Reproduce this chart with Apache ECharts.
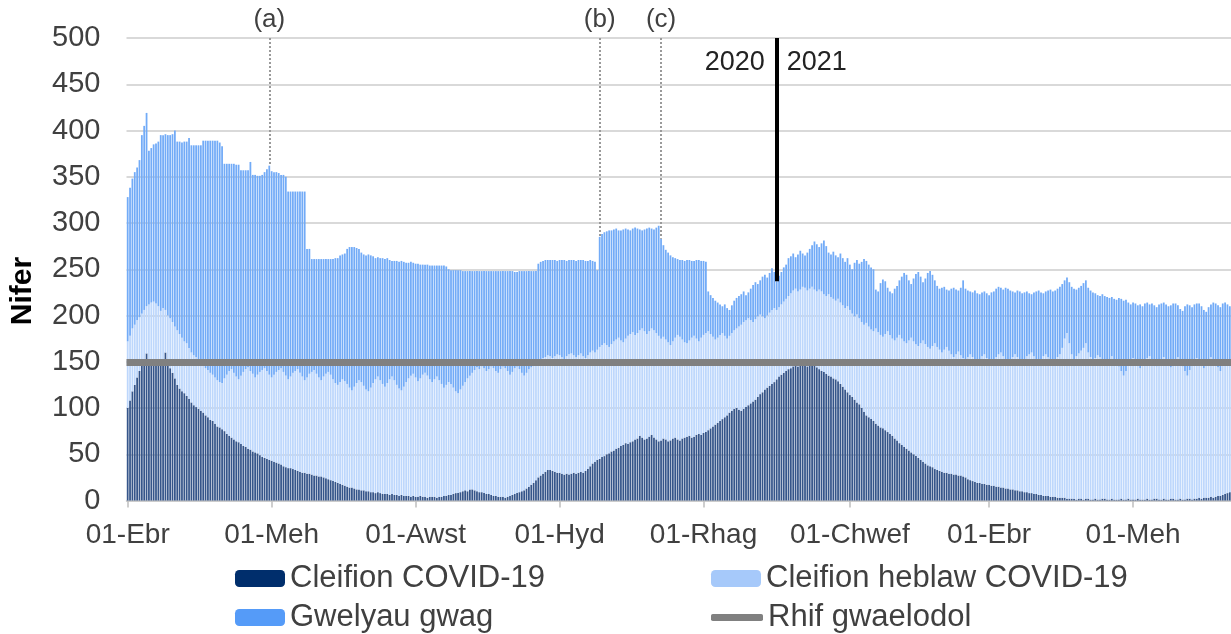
<!DOCTYPE html>
<html><head><meta charset="utf-8">
<script src="https://cdn.jsdelivr.net/npm/echarts@6/dist/echarts.min.js"></script>
<style>html,body{margin:0;padding:0;background:#fff}#chart{width:1231px;height:634px}</style>
</head><body><div id="chart"></div>
<script>
// Daily values from 1 Apr 2020
const covidPatients = [
100,108,118,125,133,140,146,150,159,150,
148,150,149,152,150,153,160,150,143,138,
132,125,121,118,116,113,110,106,103,101,
99,97,95,92,90,87,86,83,80,79,
77,75,72,70,68,66,64,63,61,59,
58,56,55,53,52,51,49,47,46,45,
44,43,42,41,40,39,37,36,35,35,
34,33,32,31,30,30,29,29,28,27,
27,26,26,25,24,23,22,21,20,19,
18,17,16,15,14,14,13,12,12,11,
11,10,10,9,9,8,9,8,7,7,
7,6,7,6,6,5,6,5,5,5,
4,5,4,4,5,4,4,3,4,4,
4,3,4,4,5,5,6,6,7,8,
8,9,10,11,10,12,12,11,10,9,
9,8,7,7,6,5,5,4,4,4,
3,4,5,6,7,8,9,10,11,13,
15,17,19,22,25,27,29,31,33,33,
32,31,30,30,29,28,29,28,29,30,
29,30,31,30,32,34,37,40,42,44,
45,47,48,50,51,53,54,56,57,59,
60,62,61,63,64,66,67,70,68,66,
67,69,71,68,66,64,65,67,66,64,
65,67,68,66,65,67,68,69,70,68,
69,71,72,71,73,74,76,78,80,82,
84,86,88,90,92,95,97,99,100,98,
97,99,101,103,105,107,109,112,115,117,
120,122,124,126,128,131,134,136,138,140,
142,143,145,146,145,147,148,146,145,147,
148,146,144,142,140,139,137,135,134,132,
131,129,126,123,120,117,114,112,109,106,
104,100,96,92,90,88,86,83,81,79,
78,76,74,72,70,67,65,62,60,58,
56,54,52,50,48,46,44,42,40,38,
37,36,34,33,32,31,30,30,29,29,
28,28,27,27,26,25,23,22,21,20,
19,19,18,18,17,17,16,16,15,15,
14,14,13,13,12,12,11,11,10,10,
9,9,8,8,7,7,6,6,5,5,
5,4,4,4,3,3,3,3,2,2,
2,2,1,2,2,1,2,2,1,1,
2,1,1,2,2,1,1,2,1,1,
1,2,1,1,2,1,1,1,2,1,
1,1,2,1,1,2,2,1,1,2,
1,1,2,2,1,1,2,1,1,2,
2,1,2,2,3,2,3,3,3,4,
3,4,5,5,6,7,8,9
];
// All patients in beds (COVID-19 + non-COVID-19)
const allPatients = [
172,178,186,190,195,198,202,206,210,212,
214,215,213,210,205,208,206,200,197,193,
188,184,180,176,172,170,165,160,157,155,
152,150,146,143,141,138,136,133,130,128,
127,132,136,140,142,138,134,131,135,139,
142,144,140,137,133,136,139,141,143,140,
136,133,136,139,141,143,139,135,131,134,
138,140,142,138,134,130,133,137,139,141,
137,133,130,134,137,139,136,131,127,125,
128,131,129,126,122,119,123,127,130,128,
124,120,118,122,127,131,134,130,126,123,
127,131,134,130,125,121,119,123,128,132,
135,137,133,129,132,136,138,135,131,128,
131,134,130,126,122,125,128,126,122,118,
116,120,124,128,132,135,138,141,144,142,
145,143,140,142,145,143,140,138,142,145,
143,140,136,139,143,145,142,138,135,138,
142,144,146,148,150,152,154,155,157,156,
154,156,158,157,155,153,156,158,159,157,
155,157,159,156,154,157,160,162,160,163,
166,168,170,168,166,169,172,174,176,173,
171,175,178,180,182,179,181,184,186,183,
180,183,186,184,181,178,175,177,174,171,
168,172,176,179,177,174,171,170,173,176,
178,175,172,176,179,181,183,180,177,174,
176,179,181,178,175,178,181,184,186,188,
190,193,195,197,195,193,196,199,201,199,
197,200,203,206,208,206,209,212,215,218,
221,224,227,229,226,228,231,230,227,229,
231,228,226,228,226,223,221,223,220,218,
216,218,214,211,208,210,206,202,199,201,
197,193,190,192,188,185,183,186,182,179,
177,180,183,179,175,173,176,179,175,172,
170,173,176,172,169,167,170,173,169,166,
164,167,170,166,163,160,163,166,162,158,
155,158,161,157,154,152,155,158,155,152,
150,153,156,158,154,150,147,151,155,158,
160,156,152,149,152,155,158,155,151,148,
152,156,158,160,156,151,148,152,156,158,
155,151,147,151,155,158,165,175,181,170,
158,153,156,159,162,165,170,160,155,150,
154,157,155,150,146,149,153,156,152,148,
145,140,135,140,147,151,154,150,146,143,
147,151,154,156,152,148,145,149,153,155,
151,147,144,148,152,155,150,145,140,135,
141,147,151,154,150,146,143,147,151,155,
152,148,144,140,146,150,153,149
];
// Total beds (occupied + empty)
const totalBeds = [
328,338,348,355,360,368,395,405,419,378,
381,385,386,388,395,395,396,395,395,396,
400,388,388,387,388,388,392,384,384,384,
384,384,389,389,389,389,389,389,389,387,
383,364,364,364,364,364,363,363,357,357,
357,357,366,352,352,351,351,352,355,358,
362,356,355,355,354,352,352,350,334,334,
334,334,334,334,334,334,272,272,261,261,
261,261,261,261,261,261,261,261,262,262,
265,266,267,272,274,274,274,273,272,268,
266,265,266,265,264,262,263,262,262,261,
262,260,259,259,259,258,259,258,257,257,
258,257,256,256,255,255,255,255,254,254,
254,254,254,254,254,253,250,249,249,249,
249,249,248,248,248,248,248,248,248,248,
248,248,248,248,248,248,248,248,248,248,
248,248,248,248,247,247,248,248,248,248,
248,248,248,248,256,258,259,260,260,260,
260,260,259,260,260,260,259,260,260,260,
259,260,260,260,259,259,260,259,258,249,
285,288,290,291,292,292,293,294,292,292,
293,294,293,292,294,295,294,293,292,293,
294,295,294,293,295,297,283,276,271,268,
265,263,262,261,260,260,259,260,260,259,
259,260,260,259,259,258,226,222,219,216,
214,212,210,212,208,206,211,216,219,221,
223,226,222,225,229,233,236,234,238,242,
244,241,246,251,247,237,243,247,252,255,
262,264,267,263,266,270,267,265,268,272,
276,280,277,274,278,281,275,268,266,269,
265,263,267,262,258,262,255,250,257,260,
256,258,261,259,255,252,250,228,226,235,
239,237,230,226,224,229,232,238,242,246,
244,238,234,240,245,247,242,236,240,246,
248,244,238,232,229,230,231,228,227,229,
230,228,227,230,238,229,227,226,225,227,
224,223,225,226,224,222,225,226,229,231,
230,228,230,229,227,226,225,227,226,224,
225,226,224,223,225,226,227,225,224,226,
227,228,226,227,229,231,234,238,241,236,
231,229,228,230,232,235,238,230,227,225,
224,222,221,223,221,220,219,220,218,217,
219,218,216,217,214,212,214,213,211,212,
210,213,214,212,213,211,209,212,213,214,
212,210,211,213,213,211,207,205,210,212,
211,209,212,213,213,210,206,204,209,212,
214,213,211,209,213,214,212,210
];
const baselineValue = 150;
const tickDates = ['2020-04-01','2020-06-01','2020-08-01','2020-10-01','2020-12-01','2021-02-01','2021-04-01','2021-06-01'];
const tickLabels = ['01-Ebr','01-Meh','01-Awst','01-Hyd','01-Rhag','01-Chwef','01-Ebr','01-Meh'];
const annotationDates = ['2020-05-31','2020-10-18','2020-11-13'];
const annotationLabels = ['(a)','(b)','(c)'];
const yearBoundary = '2021-01-01';
const yearLabels = ['2020','2021'];
const seriesNames = ['Cleifion COVID-19','Cleifion heblaw COVID-19','Gwelyau gwag','Rhif gwaelodol'];

// categories (one per day)
const dates = [];
for (let i = 0; i < covidPatients.length; i++) {
  dates.push(new Date(Date.UTC(2020, 3, 1 + i)).toISOString().slice(0, 10));
}
const nonCovidPatients = allPatients.map((v, i) => v - covidPatients[i]);
const emptyBeds = totalBeds.map((v, i) => v - allPatients[i]);

const FONT = 'Liberation Sans, Arial, sans-serif';
const TXT = '#404040';
const isTick = (idx, val) => tickDates.indexOf(val) >= 0;

const lineData = [
  {yAxis: baselineValue, lineStyle: {color: '#808080', width: 7, type: 'solid'}, label: {show: false}}
];
annotationDates.forEach((d, k) => {
  const idx = dates.indexOf(d);
  lineData.push([
    {coord: [d, 500], label: {show: true, formatter: annotationLabels[k]}},
    {coord: [d, totalBeds[idx]]}
  ]);
});
const yIdx = dates.indexOf(yearBoundary);
lineData.push([
  {coord: [yearBoundary, 500], lineStyle: {color: '#000', width: 4, type: 'solid'}, label: {show: false}},
  {coord: [yearBoundary, totalBeds[yIdx]]}
]);

const chart = echarts.init(document.getElementById('chart'), null, {renderer: 'canvas'});
const legendBase = {
  orient: 'horizontal', padding: 0, itemWidth: 50, itemHeight: 17, selectedMode: false,
  textStyle: {fontFamily: FONT, fontSize: 31, color: TXT}
};
chart.setOption({
  animation: false,
  textStyle: {fontFamily: FONT},
  grid: {left: 126.5, right: 0, top: 38, bottom: 133.5, containLabel: false},
  graphic: [{
    type: 'text', x: 23, y: 291, rotation: Math.PI / 2,
    style: {text: 'Nifer', font: 'bold 30px ' + FONT, fill: '#000', textAlign: 'center', textVerticalAlign: 'middle'}
  }],
  legend: [
    Object.assign({}, legendBase, {left: 235, top: 563, data: [{name: seriesNames[0], itemStyle: {color: '#002e6c'}}]}),
    Object.assign({}, legendBase, {left: 235, top: 602, data: [{name: seriesNames[2], itemStyle: {color: '#559bf8'}}]}),
    Object.assign({}, legendBase, {left: 711, top: 563, data: [{name: seriesNames[1], itemStyle: {color: '#a6c9fa'}}]}),
    Object.assign({}, legendBase, {left: 711, top: 602, itemHeight: 7, itemWidth: 52, data: [{name: seriesNames[3], icon: 'roundRect'}]})
  ],
  xAxis: {
    type: 'category', data: dates, boundaryGap: true,
    axisLine: {show: true, lineStyle: {color: '#c8c8c8', width: 1.5}},
    axisTick: {show: true, interval: isTick, alignWithLabel: true, length: 7, lineStyle: {color: '#bfbfbf', width: 1.5}},
    axisLabel: {interval: isTick, formatter: v => tickLabels[tickDates.indexOf(v)], fontSize: 28, color: TXT, margin: 21, fontFamily: FONT},
    splitLine: {show: false}
  },
  yAxis: {
    type: 'value', min: 0, max: 500, interval: 50,
    axisLine: {show: false}, axisTick: {show: false},
    axisLabel: {fontSize: 29, color: TXT, margin: 26, fontFamily: FONT},
    splitLine: {lineStyle: {color: '#d9d9d9', width: 2}}
  },
  series: [
    {name: seriesNames[0], type: 'bar', stack: 'beds', data: covidPatients, barCategoryGap: '25%', itemStyle: {color: '#35558a'}},
    {name: seriesNames[1], type: 'bar', stack: 'beds', data: nonCovidPatients, barCategoryGap: '25%', itemStyle: {color: '#bdd7fc'}},
    {name: seriesNames[2], type: 'bar', stack: 'beds', data: emptyBeds, barCategoryGap: '25%', itemStyle: {color: '#72abf7'}},
    {
      name: seriesNames[3], type: 'line', data: [], z: 5, color: '#808080', symbol: 'none',
      lineStyle: {color: '#808080', width: 7},
      markLine: {
        silent: true, symbol: ['none', 'none'], animation: false,
        lineStyle: {color: '#9a9a9a', width: 2, type: [2, 2]},
        label: {show: true, position: 'start', fontSize: 26, color: TXT, fontFamily: FONT, distance: 5},
        data: lineData
      },
      markPoint: {
        silent: true, symbol: 'circle', symbolSize: 0, itemStyle: {color: 'rgba(0,0,0,0)'},
        label: {show: true, fontSize: 27, color: '#222', fontFamily: FONT},
        data: [
          {coord: [yearBoundary, 474], label: {formatter: yearLabels[0], position: 'left', distance: 12}},
          {coord: [yearBoundary, 474], label: {formatter: yearLabels[1], position: 'right', distance: 10}}
        ]
      }
    }
  ]
});
</script></body></html>
